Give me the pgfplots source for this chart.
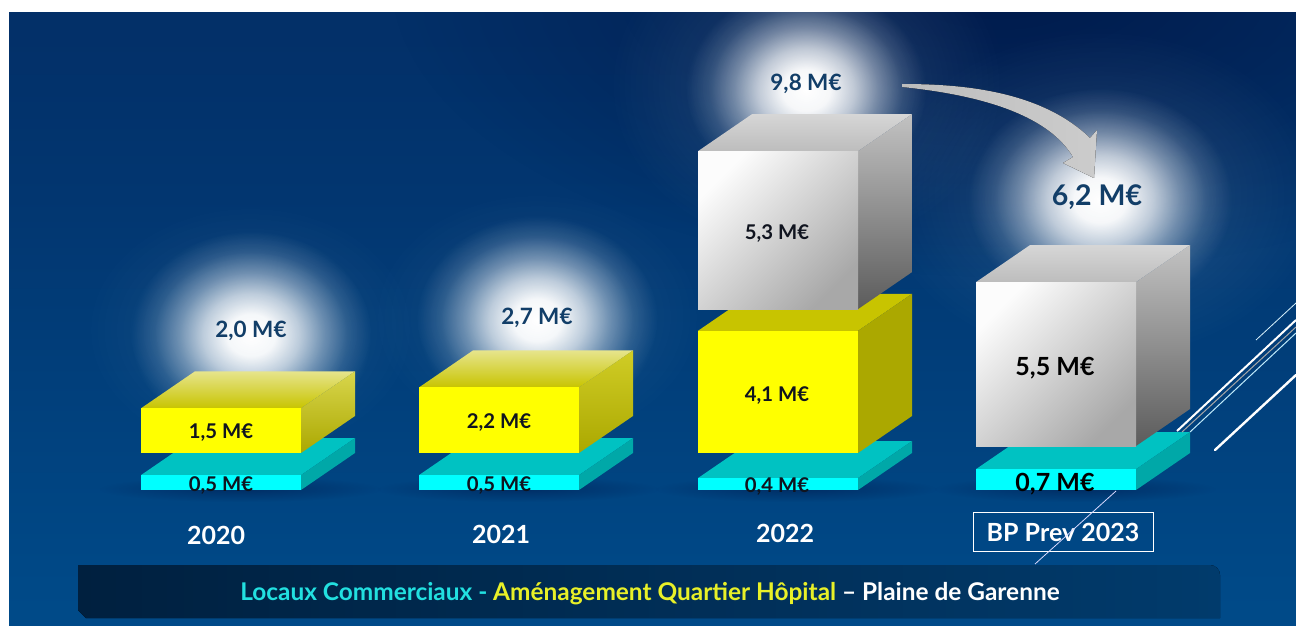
\documentclass[border=0pt]{standalone}
\usepackage{pgfplots}
\pgfplotsset{compat=1.18}
\usepackage{fontspec}
\setmainfont{Lato}
\usetikzlibrary{fadings}
\definecolor{bgA}{HTML}{005796}
\definecolor{bgB}{HTML}{004886}
\definecolor{bgC}{HTML}{023670}
\definecolor{bgD}{HTML}{04245A}
\definecolor{navy}{HTML}{001848}
\definecolor{lab}{HTML}{10141F}
\definecolor{tot}{HTML}{123E68}
\definecolor{cyF}{HTML}{00FFFF}
\definecolor{cyT}{HTML}{00C2C2}
\definecolor{cyS}{HTML}{00A8A8}
\definecolor{yeF}{HTML}{FFFF00}
\definecolor{yeT}{HTML}{C8C400}
\definecolor{yeS}{HTML}{ABA800}
\definecolor{banL}{HTML}{00203F}
\definecolor{banR}{HTML}{013B6C}
\definecolor{txC}{HTML}{22E0E0}
\definecolor{txY}{HTML}{E8F028}
\pgfdeclareverticalshading{bgshade}{100bp}{color(0bp)=(bgA); color(30bp)=(bgB); color(60bp)=(bgC); color(100bp)=(bgD)}
\pgfdeclareradialshading{haloS}{\pgfpointorigin}{color(0bp)=(pgftransparent!0); color(20bp)=(pgftransparent!100); color(50bp)=(pgftransparent!100)}
\pgfdeclarefading{glow}{\pgfuseshading{haloS}}
\pgfdeclareradialshading{softglow}{\pgfpointorigin}{color(0bp)=(pgftransparent!0); color(4bp)=(pgftransparent!4); color(8bp)=(pgftransparent!28); color(12bp)=(pgftransparent!60); color(16bp)=(pgftransparent!86); color(20bp)=(pgftransparent!100); color(50bp)=(pgftransparent!100)}
\pgfdeclarefading{softglowf}{\pgfuseshading{softglow}}
% px -> axis value: y = (490 - py)/29.8
\newcommand{\PY}[1]{{(490-#1)/29.8}}
% cuboid: x0, base, value, front opts, top opts, side opts
\newcommand{\cuboid}[6]{%
  \pgfmathsetmacro{\xa}{#1}\pgfmathsetmacro{\xb}{#1+160}\pgfmathsetmacro{\xc}{#1+214}%
  \pgfmathsetmacro{\xd}{#1+54}%
  \pgfmathsetmacro{\ya}{#2}\pgfmathsetmacro{\yb}{#2+#3}%
  \pgfmathsetmacro{\yc}{#2+#3+1.2416}\pgfmathsetmacro{\yd}{#2+1.2416}%
  \addplot[draw=none,forget plot,#5] coordinates {(\xa,\yb) (\xd,\yc) (\xc,\yc) (\xb,\yb)} --cycle;
  \addplot[draw=none,forget plot,#6] coordinates {(\xb,\ya) (\xb,\yb) (\xc,\yc) (\xc,\yd)} --cycle;
  \addplot[draw=none,forget plot,#4] coordinates {(\xa,\ya) (\xa,\yb) (\xb,\yb) (\xb,\ya)} --cycle;
}
\tikzset{
 greyF/.style={shading=axis,left color=black!1,middle color=black!11,right color=black!34,shading angle=45},
 greyT/.style={shading=axis,bottom color=black!26,top color=black!16},
 greyS/.style={shading=axis,bottom color=black!64,top color=black!24},
 labn/.style={font=\bfseries\fontsize{20.3}{20}\selectfont,text=lab,inner sep=0pt},
 labb/.style={font=\bfseries\fontsize{25}{25}\selectfont,text=black,inner sep=0pt},
 totn/.style={font=\bfseries\fontsize{22.5}{22}\selectfont,text=tot,inner sep=0pt},
 year/.style={font=\bfseries\fontsize{25}{25}\selectfont,text=white,inner sep=0pt},
}
\begin{document}
\begin{tikzpicture}[x=1pt,y=1pt]
\path[use as bounding box,fill=white] (0,0) rectangle (1296,625);
\begin{scope}[y=-1pt,yshift=625pt]
  \fill[shading=bgshade] (9,13) rectangle (1296,625);
  \begin{scope}
  \clip (9,13) rectangle (1296,625);
  \fill[navy,opacity=.9,path fading=glow] (1000,-20) ellipse [x radius=760,y radius=370];
  % wide faint halos
  \fill[white,opacity=.14,path fading=glow] (1100,195) ellipse [x radius=280,y radius=210];
  \fill[white,opacity=.14,path fading=glow] (806,85) ellipse [x radius=250,y radius=210];
  \fill[white,opacity=.10,path fading=glow] (250,330) ellipse [x radius=210,y radius=160];
  \fill[white,opacity=.10,path fading=glow] (537,317) ellipse [x radius=210,y radius=160];
  % glows
  \fill[white,path fading=softglowf] (251,335) ellipse [x radius=150,y radius=130];
  \fill[white,path fading=softglowf] (537,320) ellipse [x radius=150,y radius=130];
  \fill[white,path fading=softglowf] (806,90) ellipse [x radius=150,y radius=130];
  \fill[white,path fading=softglowf] (1100,200) ellipse [x radius=165,y radius=140];
  % shadows on the floor
  \foreach \cx in {240,518,796,1075}
    \fill[navy,opacity=.5,path fading=glow] (\cx,489) ellipse [x radius=175,y radius=16];
  \end{scope}
  % banner
  \fill[left color=banL,right color=banR] (78,565) -- (1210,565) to[out=0,in=90] (1220,575) -- (1220,618) -- (86,618) -- (78,610) -- cycle;
\end{scope}
\begin{axis}[
  at={(0,0)},anchor=south west,scale only axis,width=1296pt,height=625pt,
  xmin=0,xmax=1296,ymin=-4.5302,ymax=16.443,hide axis,clip=false]
% 2020
\cuboid{141}{0}{0.5}{fill=cyF}{fill=cyT}{fill=cyS}
\cuboid{141}{1.2416}{1.5}{fill=yeF}{shading=axis,bottom color=yeT,top color=yeT!45!white}{shading=axis,bottom color=yeS,top color=yeT!70!white}
% 2021
\cuboid{419}{0}{0.5}{fill=cyF}{fill=cyT}{fill=cyS}
\cuboid{419}{1.2416}{2.2}{fill=yeF}{shading=axis,bottom color=yeT,top color=yeT!45!white}{shading=axis,bottom color=yeS,top color=yeT!85!white}
% 2022
\cuboid{698}{0}{0.4}{fill=cyF}{fill=cyT}{fill=cyS}
\cuboid{698}{1.2416}{4.1}{fill=yeF}{fill=yeT}{fill=yeS}
\cuboid{698}{6.07}{5.3}{greyF}{greyT}{greyS}
% BP Prev 2023
\cuboid{976}{0}{0.7}{fill=cyF}{fill=cyT}{fill=cyS}
\cuboid{976}{1.4765}{5.5}{greyF}{greyT}{greyS}
% value labels
\node[labn] at (axis cs:221,\PY{433}) {1,5 M€};
\node[labn] at (axis cs:221,\PY{486}) {0,5 M€};
\node[labn] at (axis cs:499,\PY{423}) {2,2 M€};
\node[labn] at (axis cs:499,\PY{486}) {0,5 M€};
\node[labn] at (axis cs:777,\PY{396}) {4,1 M€};
\node[labn] at (axis cs:777,\PY{487}) {0,4 M€};
\node[labn] at (axis cs:777,\PY{234}) {5,3 M€};
\node[labb] at (axis cs:1055,\PY{368}) {5,5 M€};
\node[labb] at (axis cs:1055,\PY{484}) {0,7 M€};
% totals
\node[totn] at (axis cs:251,\PY{331}) {2,0 M€};
\node[totn] at (axis cs:537,\PY{318}) {2,7 M€};
\node[totn] at (axis cs:806,\PY{84}) {9,8 M€};
\node[totn,font=\bfseries\fontsize{28.5}{28}\selectfont] at (axis cs:1097,\PY{197}) {6,2 M€};
% categories
\node[year] at (axis cs:216,\PY{535}) {2020};
\node[year] at (axis cs:501,\PY{534}) {2021};
\node[year] at (axis cs:785,\PY{533}) {2022};
\node[year] at (axis cs:1063,\PY{532}) {BP Prev 2023};
\node[font=\bfseries\fontsize{24.4}{24}\selectfont,inner sep=0pt] at (axis cs:650,\PY{594})
  {\textcolor{txC}{Locaux Commerciaux - }\textcolor{txY}{Aménagement Quartier Hôpital} \textcolor{white}{– Plaine de Garenne}};
\end{axis}
\begin{scope}[y=-1pt,yshift=625pt]
  \draw[white,line width=1pt] (973,512) rectangle (1153,551);
  \draw[white!85!blue,line width=.8pt] (1035,564) -- (1116,491);
  % arrow
  \fill[left color=black!26,right color=black!20]
    (902,84) .. controls (960,84) and (1040,90) .. (1090,138) -- (1097,130) -- (1094,178) -- (1063,163) -- (1073,157)
    .. controls (1050,118) and (990,96) .. (902,87) -- cycle;
  % deco lines
  \begin{scope}
  \clip (0,0) rectangle (1296,625);
  \draw[white!85!cyan,line width=.8pt] (1256,340) -- (1296,303);
  \draw[white,line width=2pt] (1177,431) -- (1296,320);
  \draw[black!35,line width=1pt] (1182,432) -- (1296,327);
  \draw[cyan!25!white,line width=1pt] (1190,432) -- (1296,333);
  \draw[white,line width=2.4pt,line cap=round] (1215,450) -- (1296,375);
  \end{scope}
\end{scope}
\end{tikzpicture}
\end{document}
